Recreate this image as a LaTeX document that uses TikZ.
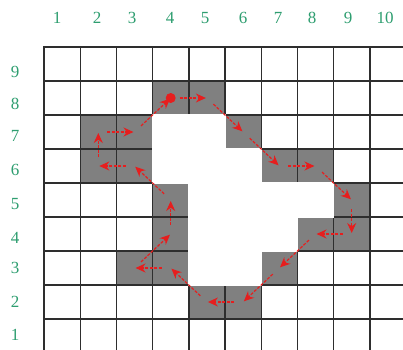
\documentclass[tikz,border=0pt]{standalone}
\usepackage{fontspec}
\setmainfont{Liberation Serif}
\usetikzlibrary{arrows.meta}
\definecolor{lblgreen}{RGB}{46,158,112}
\definecolor{cellgray}{RGB}{128,128,128}
\definecolor{arrred}{RGB}{230,30,30}
\begin{document}
\begin{tikzpicture}[x=1pt,y=1pt,
  lbl/.style={text=lblgreen,font=\fontsize{17}{17}\selectfont,inner sep=0pt},
  gridline/.style={draw=black!82,line width=1.4pt,line cap=rect},
  graycell/.style={fill=cellgray},
  holefill/.style={fill=white,draw=white,line width=1.5pt},
  startdot/.style={circle,fill=arrred,inner sep=0pt,minimum size=10pt},
  patharrow/.style={draw=arrred,line width=1.2pt,dash pattern=on 3pt off 1.5pt,
    -{Stealth[length=10pt,width=9pt]},shorten <=9pt,shorten >=1pt}]
\fill[white] (0,0) rectangle (403,349);
\useasboundingbox (0,0) rectangle (403,349);
\clip (0,0) rectangle (403,349);
% column labels
\foreach \n/\xx in {1/57,2/97,3/132,4/170,5/205,6/243,7/278,8/312,9/348,10/385}
  \node[lbl] (col\n) at (\xx,331) {\n};
% row labels
\foreach \n/\yy in {9/72,8/104,7/136,6/170,5/204,4/238,3/268,2/302,1/335}
  \node[lbl] (row\n) at (15,349-\yy) {\n};
\begin{scope}[shift={(44pt,-4pt)},x=36.2pt,y=34pt]
  % gray boundary cells
  \foreach \c/\r in {4/8,5/8,2/7,3/7,6/7,2/6,3/6,7/6,8/6,4/5,9/5,4/4,8/4,9/4,3/3,4/3,7/3,5/2,6/2}
    \fill[graycell] (\c-1,\r-1) rectangle (\c,\r);
  % grid
  \foreach \i in {0,...,10}
    \draw[gridline] (\i,-0.5) -- (\i,9);
  \foreach \j in {0,...,9}
    \draw[gridline] (0,\j) -- (10.6,\j);
  % white interior region
  \path[holefill] (3,7) -- (5,7) -- (5,6) -- (6,6) -- (6,5) -- (8,5) -- (8,4) -- (7,4)
    -- (7,3) -- (6,3) -- (6,2) -- (4,2) -- (4,5) -- (3,5) -- cycle;
  % cell centres on the contour
  \foreach \c/\r in {4/8,5/8,6/7,7/6,8/6,9/5,9/4,8/4,7/3,6/2,5/2,4/3,3/3,4/4,4/5,3/6,2/6,2/7,3/7}
    \coordinate (p\c-\r) at (\c-0.5,\r-0.5);
  % contour arrows
  \foreach \a/\b in {4-8/5-8,5-8/6-7,6-7/7-6,7-6/8-6,8-6/9-5,9-5/9-4,9-4/8-4,8-4/7-3,
      7-3/6-2,6-2/5-2,5-2/4-3,4-3/3-3,3-3/4-4,4-4/4-5,4-5/3-6,3-6/2-6,2-6/2-7,2-7/3-7,3-7/4-8}
    \draw[patharrow] (p\a) -- (p\b);
  \node[startdot] (start) at (p4-8) {};
\end{scope}
\end{tikzpicture}
\end{document}
